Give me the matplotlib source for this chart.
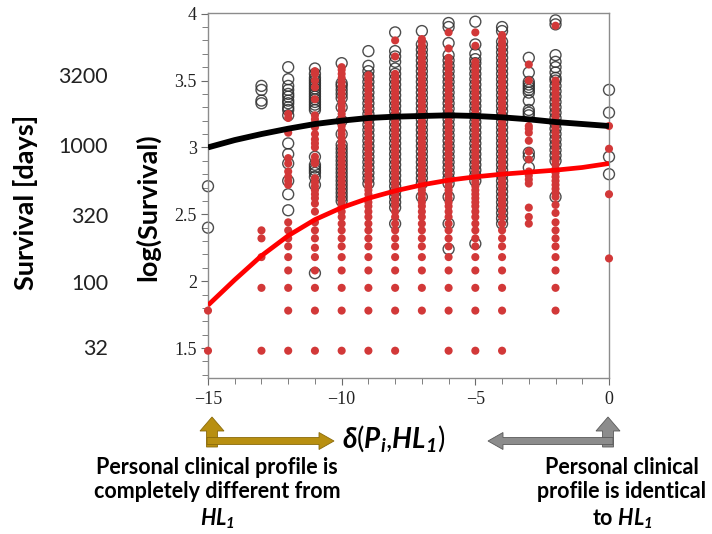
import matplotlib
matplotlib.use('Agg')
import matplotlib.pyplot as plt
from matplotlib.ticker import MultipleLocator, FormatStrFormatter
from matplotlib.transforms import blended_transform_factory
from matplotlib.patches import FancyArrow

plt.rcParams['mathtext.fontset'] = 'custom'
plt.rcParams['mathtext.rm'] = 'Lato'
plt.rcParams['mathtext.it'] = 'Lato:italic:bold'
plt.rcParams['mathtext.bf'] = 'Lato:bold'
plt.rcParams['mathtext.bfit'] = 'Lato:italic:bold'

# distance columns (x) and log(Survival) values read per column
columns = [-15, -13, -12, -11, -10, -9, -8, -7, -6, -5, -4, -3, -2, 0]

red_points = [
    [1.48, 1.78],
    [1.48, 1.95, 2.18, 2.32, 2.38],
    [1.48, 1.78, 1.95, 2.08, 2.18, 2.26, 2.32, 2.38, 2.44, 2.72, 2.75, 2.78, 2.82, 2.88, 2.92, 3.11, 3.22, 3.25],
    [1.48, 1.78, 1.95, 2.08, 2.18, 2.25, 2.32, 2.38, 2.44, 2.52, 2.58, 2.62, 2.65, 2.68, 2.71, 2.74, 2.77,
     2.88, 2.90, 2.93, 3.00, 3.03, 3.06, 3.10, 3.15, 3.18, 3.21, 3.24, 3.36, 3.45, 3.50, 3.55, 3.57],
    [1.48, 1.78, 1.95, 2.08, 2.18, 2.26, 2.32, 2.38, 2.43, 2.48, 2.52, 2.56, 2.59, 2.62, 2.65, 2.68, 2.71,
     2.74, 2.77, 2.80, 2.83, 2.86, 2.89, 2.92, 2.95, 2.98, 3.01, 3.04, 3.07, 3.10, 3.13, 3.16, 3.19, 3.22,
     3.25, 3.28, 3.31, 3.34, 3.37, 3.40, 3.43, 3.46, 3.49, 3.52, 3.55, 3.58, 3.60],
    [1.48, 1.78, 1.95, 2.08, 2.18, 2.26, 2.32, 2.38, 2.43, 2.48, 2.52, 2.56, 2.59, 2.62, 2.65, 2.68, 2.71,
     2.74, 2.77, 2.80, 2.83, 2.86, 2.89, 2.92, 2.95, 2.98, 3.01, 3.04, 3.07, 3.10, 3.13, 3.16, 3.19, 3.22,
     3.25, 3.28, 3.31, 3.34, 3.37, 3.40, 3.43, 3.46, 3.49, 3.52, 3.54],
    [1.48, 1.78, 1.95, 2.08, 2.18, 2.26, 2.32, 2.38, 2.43, 2.48, 2.52, 2.56, 2.59, 2.62, 2.65, 2.68, 2.71,
     2.74, 2.77, 2.80, 2.83, 2.86, 2.89, 2.92, 2.95, 2.98, 3.01, 3.04, 3.07, 3.10, 3.13, 3.16, 3.19, 3.22,
     3.25, 3.28, 3.31, 3.34, 3.37, 3.40, 3.43, 3.46, 3.49, 3.52, 3.55, 3.68, 3.80],
    [1.78, 1.95, 2.08, 2.18, 2.26, 2.32, 2.38, 2.43, 2.48, 2.52, 2.56, 2.59, 2.62, 2.65, 2.68, 2.71,
     2.74, 2.77, 2.80, 2.83, 2.86, 2.89, 2.92, 2.95, 2.98, 3.01, 3.04, 3.07, 3.10, 3.13, 3.16, 3.19, 3.22,
     3.25, 3.28, 3.31, 3.34, 3.37, 3.40, 3.43, 3.46, 3.49, 3.52, 3.55, 3.58, 3.61, 3.64, 3.67, 3.70, 3.73,
     3.76, 3.79, 3.81],
    [1.48, 1.78, 1.95, 2.08, 2.18, 2.26, 2.32, 2.38, 2.43, 2.48, 2.52, 2.56, 2.59, 2.62, 2.65, 2.68, 2.71,
     2.74, 2.77, 2.80, 2.83, 2.86, 2.89, 2.92, 2.95, 2.98, 3.01, 3.04, 3.07, 3.10, 3.13, 3.16, 3.19, 3.22,
     3.25, 3.28, 3.31, 3.34, 3.37, 3.40, 3.43, 3.46, 3.49, 3.52, 3.55, 3.58, 3.61, 3.64, 3.67, 3.74, 3.86],
    [1.48, 1.78, 1.95, 2.08, 2.18, 2.26, 2.32, 2.38, 2.43, 2.48, 2.52, 2.56, 2.59, 2.62, 2.65, 2.68, 2.71,
     2.74, 2.77, 2.80, 2.83, 2.86, 2.89, 2.92, 2.95, 2.98, 3.01, 3.04, 3.07, 3.10, 3.13, 3.16, 3.19, 3.22,
     3.25, 3.28, 3.31, 3.34, 3.37, 3.40, 3.43, 3.46, 3.49, 3.52, 3.55, 3.58, 3.61, 3.64, 3.76, 3.86],
    [1.48, 1.78, 1.95, 2.08, 2.18, 2.26, 2.32, 2.38, 2.43, 2.48, 2.52, 2.56, 2.59, 2.62, 2.65, 2.68, 2.71,
     2.74, 2.77, 2.80, 2.83, 2.86, 2.89, 2.92, 2.95, 2.98, 3.01, 3.04, 3.07, 3.10, 3.13, 3.16, 3.19, 3.22,
     3.25, 3.28, 3.31, 3.34, 3.37, 3.40, 3.43, 3.46, 3.49, 3.52, 3.55, 3.58, 3.61, 3.64, 3.67, 3.70, 3.73,
     3.76, 3.79, 3.82, 3.84],
    [2.43, 2.48, 2.55, 2.73, 2.76, 2.79, 2.82, 2.91, 2.97, 3.05, 3.11, 3.14, 3.16, 3.50, 3.62],
    [1.78, 1.95, 2.08, 2.18, 2.26, 2.32, 2.38, 2.44, 2.51, 2.57, 2.63, 2.66, 2.69, 2.72, 2.75, 2.78, 2.81,
     2.84, 2.87, 2.90, 2.93, 2.96, 2.99, 3.02, 3.05, 3.08, 3.11, 3.14, 3.17, 3.20, 3.23, 3.26, 3.29, 3.32,
     3.35, 3.38, 3.41, 3.44, 3.47, 3.50, 3.91],
    [2.17, 2.65, 2.99, 3.16],
]

black_points = [
    [2.40, 2.71],
    [3.33, 3.35, 3.43, 3.46],
    [2.53, 2.65, 2.75, 2.88, 2.95, 3.03, 3.24, 3.28, 3.30, 3.33, 3.35, 3.38, 3.40, 3.43, 3.46, 3.51, 3.60],
    [2.06, 2.72, 2.78, 2.81, 2.83, 2.85, 2.87, 2.93, 3.28, 3.30, 3.32, 3.34, 3.36, 3.38, 3.40, 3.42, 3.44,
     3.46, 3.48, 3.50, 3.52, 3.55, 3.59],
    [2.60, 2.63, 2.66, 2.69, 2.72, 2.75, 2.78, 2.81, 2.84, 2.87, 2.90, 2.93, 2.96, 2.99, 3.02, 3.10, 3.20,
     3.30, 3.37, 3.40, 3.43, 3.46, 3.48, 3.63],
    [2.73, 2.77, 2.81, 2.85, 2.89, 2.93, 2.97, 3.01, 3.05, 3.09, 3.13, 3.17, 3.21, 3.25, 3.29, 3.33, 3.37,
     3.41, 3.45, 3.49, 3.53, 3.57, 3.61, 3.72],
    [2.43, 2.55, 2.59, 2.63, 2.67, 2.71, 2.75, 2.79, 2.83, 2.87, 2.91, 2.95, 2.99, 3.03, 3.07, 3.11, 3.15,
     3.19, 3.23, 3.27, 3.31, 3.35, 3.39, 3.43, 3.47, 3.51, 3.55, 3.59, 3.64, 3.68, 3.72, 3.86],
    [2.63, 2.73, 2.77, 2.81, 2.85, 2.89, 2.93, 2.97, 3.01, 3.05, 3.09, 3.13, 3.17, 3.21, 3.25, 3.29, 3.33,
     3.37, 3.41, 3.45, 3.49, 3.53, 3.57, 3.61, 3.65, 3.69, 3.73, 3.77, 3.87],
    [2.24, 2.43, 2.63, 2.73, 2.77, 2.81, 2.85, 2.89, 2.93, 2.97, 3.01, 3.05, 3.09, 3.13, 3.17, 3.21, 3.25,
     3.29, 3.33, 3.37, 3.41, 3.45, 3.49, 3.53, 3.57, 3.61, 3.65, 3.69, 3.78, 3.90, 3.93],
    [2.28, 2.75, 2.79, 2.83, 2.87, 2.91, 2.95, 2.99, 3.03, 3.07, 3.11, 3.15, 3.19, 3.23, 3.27, 3.31, 3.35,
     3.39, 3.43, 3.47, 3.51, 3.55, 3.59, 3.63, 3.66, 3.70, 3.77, 3.94],
    [2.43, 2.47, 2.51, 2.55, 2.59, 2.63, 2.67, 2.71, 2.75, 2.79, 2.83, 2.87, 2.91, 2.95, 2.99, 3.03, 3.07,
     3.11, 3.15, 3.19, 3.23, 3.27, 3.31, 3.35, 3.39, 3.43, 3.47, 3.51, 3.55, 3.59, 3.63, 3.67, 3.71, 3.75,
     3.79, 3.87, 3.90],
    [2.85, 2.93, 2.96, 3.24, 3.26, 3.28, 3.35, 3.41, 3.43, 3.45, 3.47, 3.49, 3.56, 3.67],
    [2.63, 2.90, 2.94, 2.98, 3.02, 3.06, 3.10, 3.14, 3.18, 3.22, 3.26, 3.30, 3.34, 3.38, 3.42, 3.46, 3.50,
     3.52, 3.56, 3.60, 3.64, 3.69, 3.92, 3.95],
    [2.80, 2.93, 3.26, 3.43],
]

# fitted curves
fit_x = [-15, -14, -13, -12, -11, -10, -9, -8, -7, -6, -5, -4, -3, -2, -1, 0]
fit_black = [3.00, 3.055, 3.10, 3.14, 3.175, 3.20, 3.22, 3.23, 3.235, 3.24, 3.235, 3.225, 3.21, 3.19, 3.175, 3.16]
fit_red = [1.82, 2.01, 2.19, 2.34, 2.46, 2.55, 2.62, 2.675, 2.72, 2.755, 2.78, 2.80, 2.815, 2.83, 2.85, 2.88]

days_labels = ['3200', '1000', '320', '100', '32']
days_pos = [3.53, 3.0, 2.48, 1.98, 1.49]

fig = plt.figure(figsize=(7.12, 5.34), dpi=100)
ax = fig.add_axes([208 / 712, 156 / 534, 401 / 712, 365 / 534])

for x, ys in zip(columns, black_points):
    ax.scatter([x] * len(ys), ys, s=62, facecolors='none', edgecolors='#2e2e2e',
               linewidths=1.0, alpha=0.85, zorder=2, clip_on=False)
for x, ys in zip(columns, red_points):
    ax.scatter([x] * len(ys), ys, s=34, color='#d23838', edgecolors='none', zorder=3, clip_on=False)

ax.plot(fit_x, fit_black, color='black', lw=4.2, zorder=4, solid_capstyle='butt')
ax.plot(fit_x, fit_red, color='#ff0000', lw=3.4, zorder=4, solid_capstyle='butt')

ax.set_xlim(-15, 0)
ax.set_ylim(1.276, 4.005)
ax.xaxis.set_major_locator(MultipleLocator(5))
ax.xaxis.set_minor_locator(MultipleLocator(1))
ax.yaxis.set_major_locator(MultipleLocator(0.5))
ax.yaxis.set_minor_locator(MultipleLocator(0.1))
ax.yaxis.set_major_formatter(FormatStrFormatter('%g'))
for s in ax.spines.values():
    s.set_color('#8c8c8c')
    s.set_linewidth(1.0)
ax.tick_params(which='both', direction='out', color='#6a6a6a', labelsize=13, labelcolor='#222222')
ax.tick_params(which='major', length=5)
ax.tick_params(which='minor', length=4)
ax.tick_params(axis='x', pad=4)
ax.tick_params(axis='y', pad=3)
for lbl in ax.get_xticklabels() + ax.get_yticklabels():
    lbl.set_fontfamily('Liberation Serif')

# left side labels
fig.text(26 / 712, 1 - 202 / 534, 'Survival [days]', rotation=90, ha='center', va='center',
         fontsize=19.5, fontweight='bold', family='Lato')
fig.text(148 / 712, 1 - 207 / 534, 'log(Survival)', rotation=90, ha='center', va='center',
         fontsize=19.5, fontweight='bold', family='Lato')
trans = blended_transform_factory(fig.transFigure, ax.transData)
for lbl, pos in zip(days_labels, days_pos):
    ax.text(108 / 712, pos, lbl, transform=trans, ha='right', va='center',
            fontsize=15.5, family='Lato', color='#222222')

# bottom annotation layer in pixel units
ov = fig.add_axes([0, 0, 1, 1])
ov.set_xlim(0, 712)
ov.set_ylim(534, 0)
ov.axis('off')

gold = '#b88f10'
ov.add_patch(FancyArrow(212, 447, 0, -30, width=11, head_width=24, head_length=14,
                        length_includes_head=True, fc=gold, ec='#8a6a0a', lw=0.6))
ov.add_patch(FancyArrow(207, 441, 127, 0, width=7, head_width=17, head_length=15,
                        length_includes_head=True, fc=gold, ec='#8a6a0a', lw=0.6))
ov.add_patch(FancyArrow(608, 447, 0, -30, width=11, head_width=24, head_length=14,
                        length_includes_head=True, fc='#8c8c8c', ec='#5a5a5a', lw=0.6))
ov.add_patch(FancyArrow(613, 441, -125, 0, width=7, head_width=17, head_length=15,
                        length_includes_head=True, fc='#8c8c8c', ec='#5a5a5a', lw=0.6))

ov.text(394, 438, r'$\delta(P_{\mathbfit{i}}{,}HL_{\mathbfit{1}})$', ha='center', va='center', fontsize=20)
ov.text(217, 494, 'Personal clinical profile is\ncompletely different from\n$HL_{\\mathbfit{1}}$',
        ha='center', va='center', fontsize=15.5, fontweight='bold', family='Lato',
        linespacing=1.2)
ov.text(622, 494, 'Personal clinical\nprofile is identical\nto $HL_{\\mathbfit{1}}$',
        ha='center', va='center', fontsize=15.5, fontweight='bold', family='Lato',
        linespacing=1.2)

fig.savefig('out.png', dpi=100)
